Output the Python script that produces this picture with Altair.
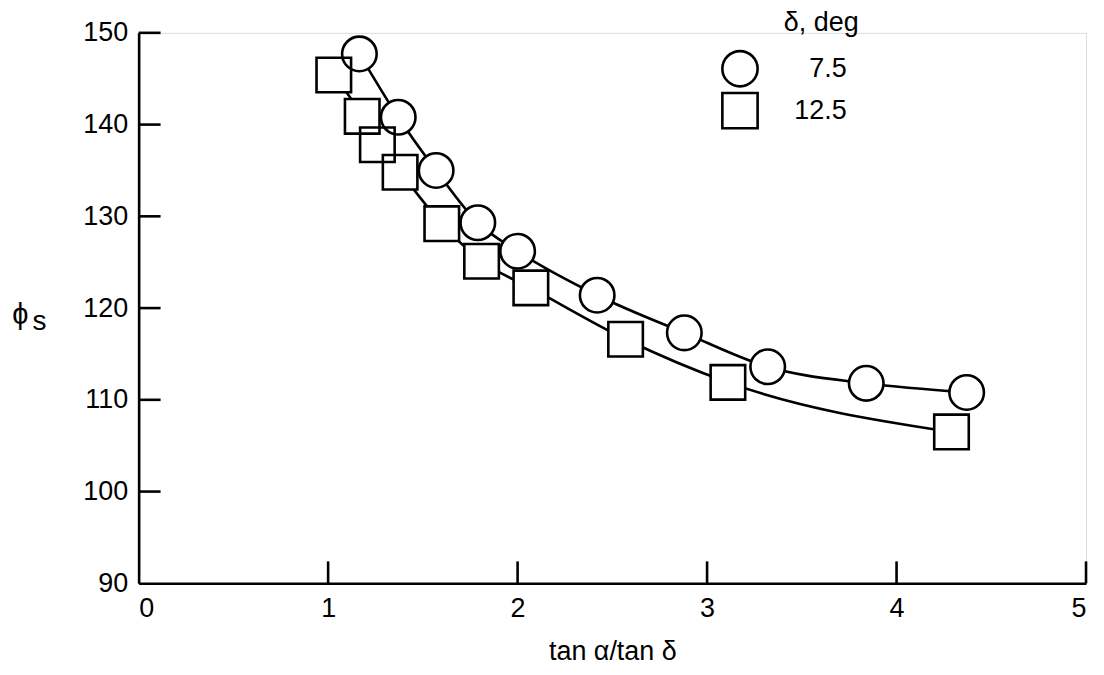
import altair as alt
import pandas as pd

# legend labels (delta, deg)
delta_labels = ["7.5", "12.5"]

# delta = 7.5 deg (circles)
x_circle = [1.165, 1.37, 1.57, 1.79, 2.00, 2.42, 2.88, 3.32, 3.84, 4.37]
y_circle = [147.7, 140.8, 135.0, 129.3, 126.2, 121.4, 117.3, 113.6, 111.8, 110.8]

# delta = 12.5 deg (squares)
x_square = [1.03, 1.18, 1.26, 1.38, 1.60, 1.81, 2.07, 2.57, 3.11, 4.29]
y_square = [145.4, 140.9, 137.8, 134.8, 129.2, 125.1, 122.2, 116.6, 111.9, 106.5]

x_ticks = [0, 1, 2, 3, 4, 5]
y_ticks = [90, 100, 110, 120, 130, 140, 150]

df = pd.DataFrame({
    "x": x_circle + x_square,
    "y": y_circle + y_square,
    "delta": [delta_labels[0]] * len(x_circle) + [delta_labels[1]] * len(x_square),
})
xt_df = pd.DataFrame({"t": x_ticks[1:]})
yt_df = pd.DataFrame({"t": y_ticks[1:]})

W, H = 950, 552
FONT = "Liberation Sans"
SW = 2.6
TICK = 22

xscale = alt.Scale(domain=[0, 5], nice=False, zero=False)
yscale = alt.Scale(domain=[90, 150], nice=False, zero=False)
shape_scale = alt.Scale(domain=delta_labels, range=["circle", "square"])

x_main_axis = alt.Axis(
    orient="bottom", values=x_ticks, ticks=False, grid=False,
    domain=True, domainColor="black", domainWidth=SW,
    labelFont=FONT, labelFontSize=27, labelColor="black", labelPadding=12,
    labelBaseline="top",
    title="tan α/tan δ", titleFont=FONT, titleFontSize=27, titleFontWeight="normal",
    titleColor="black", titleBaseline="middle", titleY=68,
)
y_main_axis = alt.Axis(
    orient="left", values=y_ticks, ticks=False, grid=False,
    domain=True, domainColor="black", domainWidth=SW,
    labelFont=FONT, labelFontSize=27, labelColor="black", labelPadding=11,
    title="ϕ", titleFont=FONT, titleFontSize=29, titleFontWeight="normal",
    titleColor="black", titleAngle=0, titleAlign="center", titleBaseline="middle",
    titleX=-119, titleY=282,
)
y_sub_axis = alt.Axis(
    orient="left", labels=False, ticks=False, domain=False, grid=False,
    title="s", titleFont=FONT, titleFontSize=28, titleFontWeight="normal",
    titleColor="black", titleAngle=0, titleAlign="center", titleBaseline="middle",
    titleX=-100, titleY=289,
)

legend = alt.Legend(
    title="δ, deg", orient="none", legendX=584, legendY=-23,
    padding=0, symbolSize=1250, symbolStrokeWidth=SW,
    symbolStrokeColor="black", symbolFillColor="white",
    labelFont=FONT, labelFontSize=27, labelColor="black",
    labelAlign="right", labelOffset=88,
    titleFont=FONT, titleFontSize=27, titleFontWeight="normal",
    titleColor="black", titleAnchor="middle", titleAlign="left",
    titleBaseline="top", titlePadding=13, rowPadding=-7,
)

lines = alt.Chart(df).mark_line(
    color="black", strokeWidth=SW, interpolate="monotone"
).encode(
    x=alt.X("x:Q", scale=xscale, axis=x_main_axis),
    y=alt.Y("y:Q", scale=yscale, axis=y_main_axis),
    detail="delta:N",
)

x_tick_rules = alt.Chart(xt_df).mark_rule(color="black", strokeWidth=SW).encode(
    x=alt.X("t:Q", scale=xscale, axis=None),
    y=alt.value(H),
    y2=alt.value(H - TICK),
)
y_tick_rules = alt.Chart(yt_df).mark_rule(color="black", strokeWidth=SW).encode(
    y=alt.Y("t:Q", scale=yscale, axis=None),
    x=alt.value(0),
    x2=alt.value(TICK),
)

fills = alt.Chart(df).mark_point(
    filled=True, fill="white", strokeWidth=0, opacity=1, size=1200
).encode(
    x=alt.X("x:Q", scale=xscale, axis=None),
    y=alt.Y("y:Q", scale=yscale, axis=y_sub_axis),
    shape=alt.Shape("delta:N", scale=shape_scale, legend=None),
)

outlines = alt.Chart(df).mark_point(
    filled=False, color="black", strokeWidth=SW, opacity=1, size=1200
).encode(
    x=alt.X("x:Q", scale=xscale, axis=None),
    y=alt.Y("y:Q", scale=yscale, axis=None),
    shape=alt.Shape("delta:N", scale=shape_scale, legend=legend),
)

chart = alt.layer(lines, x_tick_rules, y_tick_rules, fills, outlines).resolve_axis(
    x="independent", y="independent"
).resolve_legend(shape="independent").properties(
    width=W, height=H,
    autosize=alt.AutoSizeParams(type="none"),
    padding={"left": 131, "top": 24, "right": 10, "bottom": 82},
).configure_view(stroke=None).configure(background="white")

chart.save("out.html", embed_options={"renderer": "svg", "actions": False})
